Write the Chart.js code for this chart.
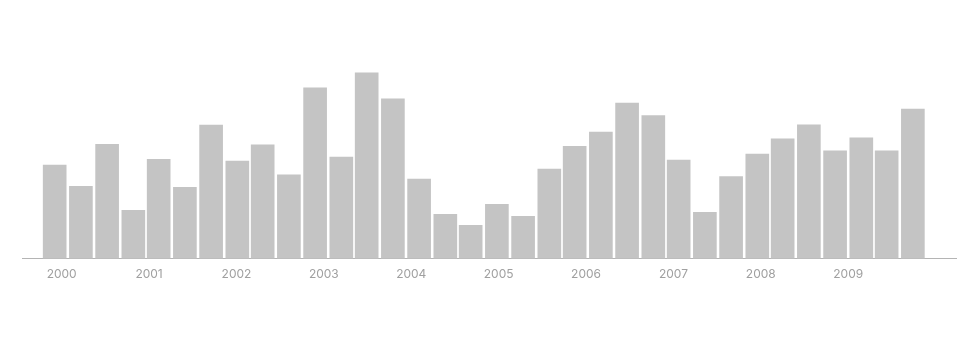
<!DOCTYPE html>
<html lang="en">

<head>
    <meta charset="UTF-8">
    <title>Bars by period</title>
    <script src="https://cdn.jsdelivr.net/npm/chart.js"></script>
    <style>
        body { margin: 0; background: #fff; }
    </style>
</head>

<body>
    <div style="width: 957px; height: 360px;">
        <canvas id="periodChart"></canvas>
    </div>
    <script>
        // period midpoints, as decimal years
        const periods = [
            1999.92, 2000.22, 2000.52, 2000.82, 2001.11, 2001.41, 2001.71, 2002.01, 2002.30, 2002.60,
            2002.90, 2003.20, 2003.49, 2003.79, 2004.09, 2004.39, 2004.68, 2004.98, 2005.28, 2005.58,
            2005.87, 2006.17, 2006.47, 2006.77, 2007.06, 2007.36, 2007.66, 2007.96, 2008.25, 2008.55,
            2008.85, 2009.15, 2009.44, 2009.74
        ];
        const values = [
            46.4, 35.9, 56.7, 23.9, 49.2, 35.4, 66.2, 48.4, 56.4, 41.5,
            84.7, 50.4, 92.2, 79.2, 39.4, 21.9, 16.5, 26.9, 21.0, 44.4,
            55.7, 62.7, 77.2, 70.9, 48.9, 22.9, 40.7, 51.9, 59.4, 66.4,
            53.4, 59.9, 53.4, 74.2
        ];
        const yearTicks = [2000, 2001, 2002, 2003, 2004, 2005, 2006, 2007, 2008, 2009];

        const ctx = document.getElementById('periodChart').getContext('2d');

        const config = {
            type: 'bar',
            data: {
                datasets: [{
                    data: periods.map((p, i) => ({ x: p, y: values[i] })),
                    backgroundColor: '#c4c4c4',
                    borderWidth: 0,
                    barThickness: 23,
                }],
            },
            options: {
                responsive: true,
                maintainAspectRatio: false,
                animation: false,
                layout: {
                    padding: { top: 57, left: 22, right: 0, bottom: 69 },
                },
                plugins: {
                    legend: { display: false },
                    tooltip: { enabled: false },
                },
                scales: {
                    x: {
                        type: 'linear',
                        min: 1999.546,
                        max: 2010.245,
                        offset: false,
                        grid: { display: false, drawTicks: false, tickLength: 0 },
                        border: { display: true, color: '#b4b4b4', width: 1 },
                        afterBuildTicks: (axis) => {
                            axis.ticks = yearTicks.map(v => ({ value: v }));
                        },
                        ticks: {
                            color: '#a0a0a0',
                            padding: 9,
                            maxRotation: 0,
                            autoSkip: false,
                            font: { family: 'Inter', size: 12 },
                            callback: (v) => String(v),
                        },
                    },
                    y: {
                        display: false,
                        min: 0,
                        max: 100,
                    },
                },
            },
        };

        const periodChart = new Chart(ctx, config);
    </script>
</body>

</html>
